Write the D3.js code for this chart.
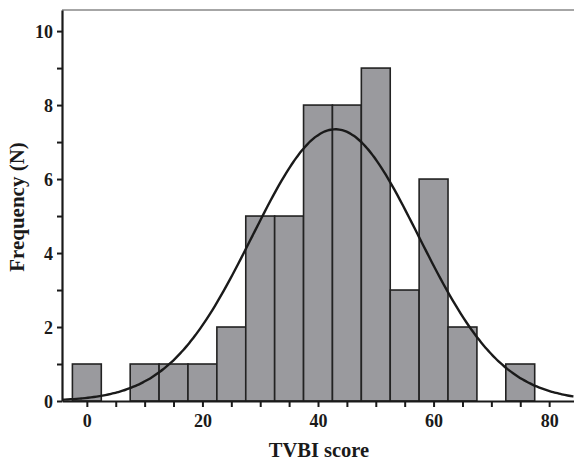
<!DOCTYPE html>
<html>
<head>
<meta charset="utf-8">
<script src="https://cdn.jsdelivr.net/npm/d3@7"></script>
<style>
  body { margin: 0; background: #fff; }
  svg { display: block; }
  text { font-family: "Liberation Serif", "DejaVu Serif", serif; font-weight: bold; fill: #1a1a1a; }
</style>
</head>
<body>
<div id="chart"></div>
<script>
// bin centres (width 5) and counts
var binCenters = [0, 5, 10, 15, 20, 25, 30, 35, 40, 45, 50, 55, 60, 65, 70, 75];
var counts     = [1, 0, 1, 1, 1, 2, 5, 5, 8, 8, 9, 3, 6, 2, 0, 1];
var binWidth = 5;
var xTicks = [0, 20, 40, 60, 80];
var yTicks = [0, 2, 4, 6, 8, 10];

var width = 574, height = 462;
var margin = {top: 10, right: 0, bottom: 61, left: 62};

var x = d3.scaleLinear().domain([-4.3, 84.3]).range([margin.left, width - margin.right]);
var y = d3.scaleLinear().domain([0, 10.57]).range([height - margin.bottom, margin.top]);

var svg = d3.select("#chart").append("svg")
  .attr("width", width).attr("height", height);

var bins = binCenters.map((c, i) => ({c: c, n: counts[i]})).filter(d => d.n > 0);

// top frame line
svg.append("line")
  .attr("x1", margin.left).attr("x2", width)
  .attr("y1", margin.top).attr("y2", margin.top)
  .attr("stroke", "#888").attr("stroke-width", 1.5);

svg.append("g")
  .selectAll("rect")
  .data(bins)
  .join("rect")
    .attr("x", d => x(d.c - binWidth / 2))
    .attr("y", d => y(d.n))
    .attr("width", d => x(d.c + binWidth / 2) - x(d.c - binWidth / 2))
    .attr("height", d => y(0) - y(d.n))
    .attr("fill", "#9a9a9e")
    .attr("stroke", "#222")
    .attr("stroke-width", 1.6);

// normal curve fitted to the binned data
var total = d3.sum(counts);
var mean = d3.sum(binCenters, (c, i) => c * counts[i]) / total;
var sd = Math.sqrt(d3.sum(binCenters, (c, i) => counts[i] * (c - mean) ** 2) / (total - 1));
var pdf = v => total * binWidth / (sd * Math.sqrt(2 * Math.PI)) * Math.exp(-0.5 * ((v - mean) / sd) ** 2);
var curvePts = d3.range(-4.3, 84.31, 0.5);

svg.append("path")
  .datum(curvePts)
  .attr("fill", "none")
  .attr("stroke", "#1a1a1a")
  .attr("stroke-width", 2.4)
  .attr("d", d3.line().x(d => x(d)).y(d => y(pdf(d))).curve(d3.curveBasis));

// x axis
var xAxis = svg.append("g")
  .attr("transform", `translate(0,${y(0)})`)
  .call(d3.axisBottom(x).tickValues(d3.range(0, 81, 5))
    .tickFormat(d => xTicks.includes(d) ? d : "")
    .tickSize(6).tickSizeOuter(0));
xAxis.select(".domain").attr("stroke", "#1a1a1a").attr("stroke-width", 2.2);
xAxis.selectAll(".tick line").attr("stroke", "#1a1a1a").attr("stroke-width", 2);
xAxis.selectAll("text").attr("font-size", 18).attr("y", 26).attr("dy", 0).attr("fill", "#1a1a1a")
  .style("font-family", "Liberation Serif").style("font-weight", "bold");

// y axis
var yAxis = svg.append("g")
  .attr("transform", `translate(${margin.left},0)`)
  .call(d3.axisLeft(y).tickValues(d3.range(0, 11, 1))
    .tickFormat(d => yTicks.includes(d) ? d : "")
    .tickSize(5).tickSizeOuter(0));
yAxis.select(".domain").attr("stroke", "#1a1a1a").attr("stroke-width", 2.2);
yAxis.selectAll(".tick line").attr("stroke", "#1a1a1a").attr("stroke-width", 2);
yAxis.selectAll("text").attr("font-size", 18).attr("x", -9).attr("dy", "0.34em").attr("fill", "#1a1a1a")
  .style("font-family", "Liberation Serif").style("font-weight", "bold");

// axis titles
svg.append("text")
  .attr("x", 319).attr("y", 457)
  .attr("text-anchor", "middle")
  .attr("font-size", 20.5)
  .text("TVBI score");

svg.append("text")
  .attr("transform", `translate(24,207) rotate(-90)`)
  .attr("text-anchor", "middle")
  .attr("font-size", 21)
  .text("Frequency (N)");
</script>
</body>
</html>
